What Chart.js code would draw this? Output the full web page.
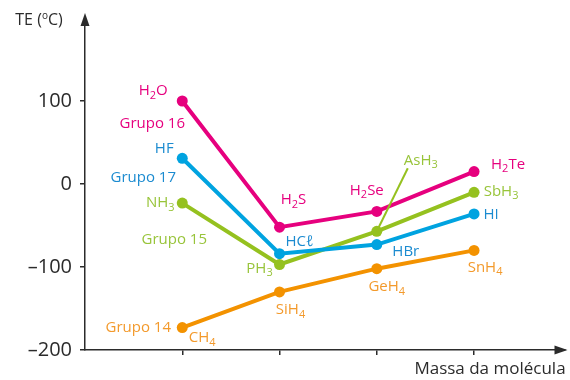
<!DOCTYPE html>
<html>
<head>
<meta charset="utf-8">
<script src="https://cdn.jsdelivr.net/npm/chart.js@4"></script>
<style>
  html, body { margin: 0; padding: 0; background: #fff; }
  #wrap { width: 570px; height: 380px; }
</style>
</head>
<body>
<div id="wrap"><canvas id="chart"></canvas></div>
<script>
// Boiling points (ºC) of the hydrides, periods 2 to 5
const periods = [1, 2, 3, 4];
const yTicks = [-200, -100, 0, 100];

const group16 = [100, -52, -33, 15];
const group17 = [31, -84, -73, -36];
const group15 = [-23, -97, -57, -10];
const group14 = [-173, -130, -102, -80];

const names16 = ['H_2O', 'H_2S', 'H_2Se', 'H_2Te'];
const names17 = ['HF', 'HCℓ', 'HBr', 'HI'];
const names15 = ['NH_3', 'PH_3', 'AsH_3', 'SbH_3'];
const names14 = ['CH_4', 'SiH_4', 'GeH_4', 'SnH_4'];

const groupNames = ['Grupo 16', 'Grupo 17', 'Grupo 15', 'Grupo 14'];

const FONT = '"Open Sans", sans-serif';
const AXIS = '#2b2b2b';

const series = [
    { values: group16, names: names16, line: '#e6007e', text: '#e6007e' },
    { values: group17, names: names17, line: '#00a3e0', text: '#1b8bd0' },
    { values: group15, names: names15, line: '#95c11f', text: '#98c43a' },
    { values: group14, names: names14, line: '#f39200', text: '#f39a2c' }
];

// label offsets from each point: [dx, dy] per compound, then the group label
const offsets = [
    { pts: [[-29, -10], [14, -27], [-10, -21], [34, -7]], group: [-30, 23] },
    { pts: [[-18, -10], [20, -12], [29, 7], [17, 1]], group: [-39, 19] },
    { pts: [[-22, 0], [-20, 4], [44, -71], [27, -1]], group: [-8, 37] },
    { pts: [[20, 10], [11, 18], [10, 18], [11, 17]], group: [-44, 0] }
];

// draws text with "_n" subscripts and "^o" superscripts, centred on x, y
function richText(ctx, str, x, y, size, color) {
    const parts = [];
    for (let i = 0; i < str.length; i++) {
        const c = str[i];
        if ((c === '_' || c === '^') && i + 1 < str.length) {
            parts.push({ t: str[i + 1], mode: c });
            i++;
        } else {
            const last = parts[parts.length - 1];
            if (last && last.mode === '') last.t += c;
            else parts.push({ t: c, mode: '' });
        }
    }
    const small = Math.round(size * (parts.some(p => p.mode === '^') ? 0.62 : 0.72));
    let width = 0;
    parts.forEach(p => {
        ctx.font = (p.mode ? small : size) + 'px ' + FONT;
        p.w = ctx.measureText(p.t).width;
        width += p.w;
    });
    let cx = x - width / 2;
    ctx.fillStyle = color;
    ctx.textBaseline = 'middle';
    ctx.textAlign = 'left';
    parts.forEach(p => {
        ctx.font = (p.mode ? small : size) + 'px ' + FONT;
        let yy = y;
        if (p.mode === '_') yy = y + size * 0.32;
        if (p.mode === '^') yy = y - size * 0.22;
        ctx.fillText(p.t, cx, yy);
        cx += p.w;
    });
}

const annotations = {
    id: 'annotations',
    afterDatasetsDraw(chart) {
        const ctx = chart.ctx;
        const area = chart.chartArea;
        ctx.save();

        // arrowheads on both axes
        ctx.fillStyle = AXIS;
        ctx.beginPath();
        ctx.moveTo(area.left, area.top - 5);
        ctx.lineTo(area.left - 4.5, area.top + 8);
        ctx.lineTo(area.left + 4.5, area.top + 8);
        ctx.closePath();
        ctx.fill();
        ctx.beginPath();
        ctx.moveTo(area.right + 3, area.bottom);
        ctx.lineTo(area.right - 10, area.bottom - 4.5);
        ctx.lineTo(area.right - 10, area.bottom + 4.5);
        ctx.closePath();
        ctx.fill();

        richText(ctx, 'TE (^oC)', 39, 20, 16, AXIS);
        richText(ctx, 'Massa da molécula', 490, 369, 17, AXIS);

        series.forEach((s, si) => {
            const meta = chart.getDatasetMeta(si);
            const off = offsets[si];
            meta.data.forEach((pt, i) => {
                const [dx, dy] = off.pts[i];
                if (s.names[i] === 'AsH_3') {
                    // leader line up to the AsH3 label
                    ctx.strokeStyle = s.line;
                    ctx.lineWidth = 2;
                    ctx.beginPath();
                    ctx.moveTo(pt.x, pt.y);
                    ctx.lineTo(pt.x + dx - 13, pt.y + dy + 8);
                    ctx.stroke();
                }
                richText(ctx, s.names[i], pt.x + dx, pt.y + dy, 15, s.text);
            });
            const first = meta.data[0];
            richText(ctx, groupNames[si], first.x + off.group[0], first.y + off.group[1], 15, s.text);
        });
        ctx.restore();
    }
};

const datasets = series.map(s => ({
    data: s.values.map((v, i) => ({ x: periods[i], y: v })),
    borderColor: s.line,
    backgroundColor: s.line,
    pointBackgroundColor: s.line,
    pointBorderWidth: 0,
    pointRadius: 5.5,
    borderWidth: 4,
    tension: 0
}));

new Chart(document.getElementById('chart'), {
    type: 'line',
    data: { datasets },
    options: {
        responsive: true,
        maintainAspectRatio: false,
        animation: false,
        layout: { padding: { top: 11, right: 5, left: 0, bottom: 0 } },
        plugins: {
            legend: { display: false },
            tooltip: { enabled: false }
        },
        scales: {
            x: {
                type: 'linear',
                min: 0,
                max: 4.93,
                afterBuildTicks: scale => {
                    scale.ticks = periods.map(v => ({ value: v }));
                },
                afterFit: scale => { scale.height = 30; },
                ticks: { callback: () => '', padding: 0 },
                grid: { drawOnChartArea: false, drawTicks: true, tickLength: 5, color: AXIS, lineWidth: 1.5 },
                border: { color: AXIS, width: 1.5 }
            },
            y: {
                min: -200,
                max: 200,
                afterBuildTicks: scale => {
                    scale.ticks = yTicks.map(v => ({ value: v }));
                },
                afterFit: scale => { scale.width = 85; },
                ticks: {
                    color: AXIS,
                    padding: 8,
                    font: { family: FONT, size: 20, lineHeight: 1 },
                    callback: v => String(v).replace('-', '–')
                },
                grid: { drawOnChartArea: false, drawTicks: true, tickLength: 5, color: AXIS, lineWidth: 1.5 },
                border: { color: AXIS, width: 1.5 }
            }
        }
    },
    plugins: [annotations]
});
</script>
</body>
</html>
